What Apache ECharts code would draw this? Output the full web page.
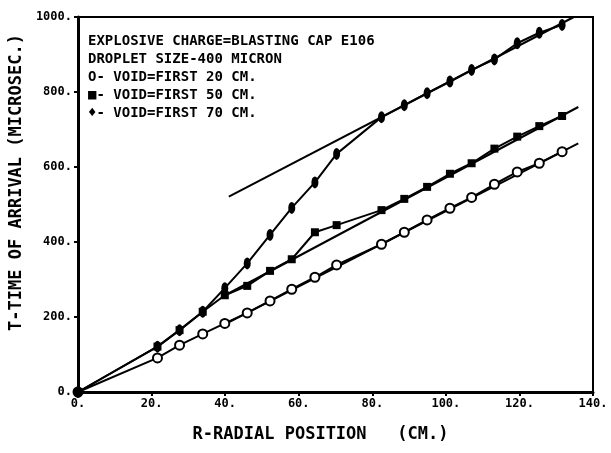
<!DOCTYPE html>
<html>
<head>
<meta charset="utf-8">
<script src="https://cdn.jsdelivr.net/npm/echarts@6/dist/echarts.min.js"></script>
<style>html,body{margin:0;padding:0;background:#fff}#chart{width:611px;height:453px}</style>
</head>
<body>
<div id="chart"></div>
<script>
// Data
const radialPos   = [0, 21.6, 27.6, 33.9, 39.9, 46.0, 52.2, 58.1, 64.4, 70.3, 82.5, 88.7, 94.9, 101.1, 107.0, 113.2, 119.4, 125.4, 131.6];
const timeVoid20  = [0, 91, 125, 155, 183, 211, 243, 274, 306, 339, 394, 426, 459, 490, 519, 554, 587, 610, 641];
const timeVoid50  = [0, 121, 165, 214, 258, 283, 323, 354, 426, 445, 485, 515, 547, 582, 610, 649, 681, 709, 736];
const timeVoid70  = [0, 121, 165, 214, 277, 343, 419, 491, 559, 635, 733, 765, 797, 828, 859, 887, 930, 958, 979];
// straight fitted lines (end points)
const fit20X = [40, 136],  fit20Y = [181, 663];
const fit50X = [40, 136],  fit50Y = [258, 760];
const fit70X = [41, 134.8], fit70Y = [521, 1000];
// axis ranges
const xRange = [0, 140], xStep = 20;
const yRange = [0, 1000], yStep = 200;
const xTitle = 'R-RADIAL POSITION   (CM.)';
const yTitle = 'T-TIME OF ARRIVAL (MICROSEC.)';
const legendLines = [
  'EXPLOSIVE CHARGE=BLASTING CAP E106',
  'DROPLET SIZE-400 MICRON',
  'O- VOID=FIRST 20 CM.',
  '\u25A0- VOID=FIRST 50 CM.',
  '\u2666- VOID=FIRST 70 CM.'
];

const zip = (xs, ys) => xs.map((x, i) => [x, ys[i]]);
const MONO = 'DejaVu Sans Mono';

const chart = echarts.init(document.getElementById('chart'), null, {renderer: 'canvas'});
const lineStyle = {color: '#000', width: 2};
chart.setOption({
  animation: false,
  backgroundColor: '#fff',
  title: {
    text: legendLines.join('\n'),
    left: 88, top: 32, padding: 0,
    textStyle: {fontFamily: MONO, fontWeight: 'bold', fontSize: 14, lineHeight: 18, color: '#000'}
  },
  grid: {left: 75, right: 18, top: 17, bottom: 61, show: true, borderColor: '#000', borderWidth: 2, backgroundColor: 'transparent'},
  xAxis: {
    type: 'value', min: xRange[0], max: xRange[1], interval: xStep,
    name: xTitle, nameLocation: 'middle', nameGap: 34,
    nameTextStyle: {fontFamily: MONO, fontWeight: 'bold', fontSize: 17, color: '#000', padding: [0, 30, 0, 0]},
    axisLine: {lineStyle: {color: '#000', width: 3}},
    axisTick: {show: true, length: 4, lineStyle: {color: '#000', width: 2}},
    axisLabel: {formatter: v => v + '.', fontFamily: MONO, fontWeight: 'bold', fontSize: 12, color: '#000', margin: 6},
    splitLine: {show: false}
  },
  yAxis: {
    type: 'value', min: yRange[0], max: yRange[1], interval: yStep,
    name: yTitle, nameLocation: 'middle', nameGap: 46,
    nameTextStyle: {fontFamily: MONO, fontWeight: 'bold', fontSize: 17, color: '#000', padding: [0, 0, 0, 44]},
    axisLine: {lineStyle: {color: '#000', width: 3}},
    axisTick: {show: true, length: 4, lineStyle: {color: '#000', width: 2}},
    axisLabel: {formatter: v => v + '.', fontFamily: MONO, fontWeight: 'bold', fontSize: 12, color: '#000', margin: 6},
    splitLine: {show: false}
  },
  series: [
    {type: 'line', data: zip(fit20X, fit20Y), symbol: 'none', lineStyle, z: 1, silent: true},
    {type: 'line', data: zip(fit50X, fit50Y), symbol: 'none', lineStyle, z: 1, silent: true},
    {type: 'line', data: zip(fit70X, fit70Y), symbol: 'none', lineStyle, z: 1, silent: true},
    {type: 'line', name: 'VOID=FIRST 20 CM.', data: zip(radialPos, timeVoid20), lineStyle,
     symbol: 'emptyCircle', symbolSize: 9, itemStyle: {color: '#000', borderColor: '#000', borderWidth: 2}, z: 3},
    {type: 'line', name: 'VOID=FIRST 50 CM.', data: zip(radialPos, timeVoid50), lineStyle,
     symbol: 'rect', symbolSize: 8, itemStyle: {color: '#000'}, z: 3},
    {type: 'line', name: 'VOID=FIRST 70 CM.', data: zip(radialPos, timeVoid70), lineStyle,
     symbol: 'circle', symbolSize: [7, 12], itemStyle: {color: '#000'}, z: 3}
  ]
});
</script>
</body>
</html>
